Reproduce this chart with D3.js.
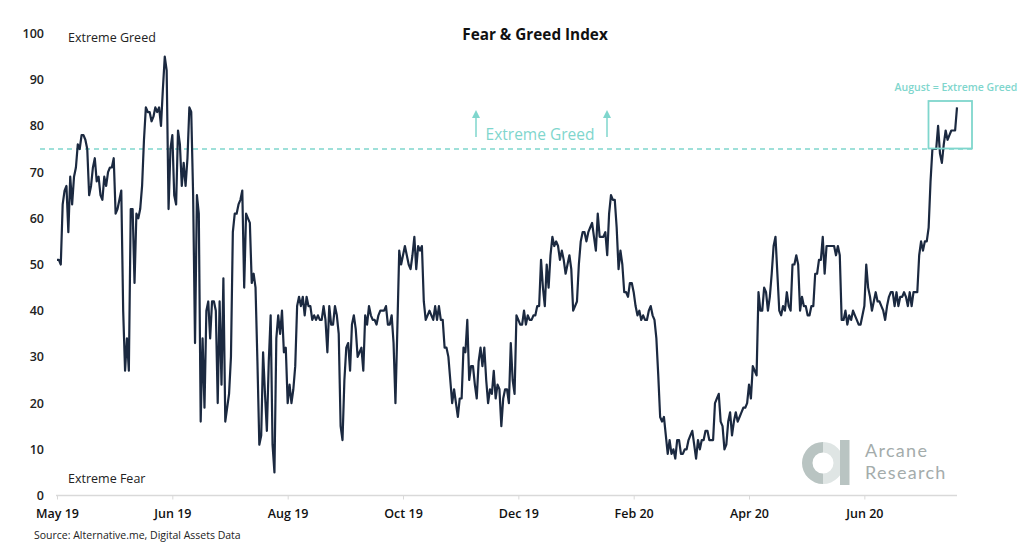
<!DOCTYPE html>
<html><head><meta charset="utf-8">
<script src="https://cdn.jsdelivr.net/npm/d3@7"></script>
<style>
html,body{margin:0;padding:0;background:#fff;}
svg{display:block;font-family:"Open Sans","Noto Sans",sans-serif;}
</style></head>
<body><svg id="c" width="1024" height="542"></svg>
<script>
// Daily Fear & Greed index values
const values = [
51,51,50,63,66,67,57,69,63,69,71,76,75,78,78,77,75,65,67,71,
73,68,69,65,64,69,67,70,71,71,73,61,62,64,66,40,27,34,27,62,
62,46,61,60,62,67,77,84,83,83,81,82,84,83,84,80,88,95,92,62,
75,78,65,63,79,76,67,72,67,73,84,83,65,33,65,61,16,34,19,40,
42,34,42,42,40,20,42,24,47,16,19,22,30,57,61,61,63,64,66,45,
61,60,59,46,48,45,29,11,13,31,22,14,29,39,11,5,34,39,35,40,
31,32,20,24,20,23,28,41,43,41,43,39,43,41,41,38,39,38,39,38,
38,41,38,31,41,37,37,41,39,35,15,12,25,32,33,27,37,39,36,30,
31,32,27,39,37,41,39,38,38,37,39,40,40,40,41,37,37,39,33,20,
36,53,50,52,54,52,50,49,52,56,49,54,53,54,42,38,39,40,39,38,
41,38,41,38,38,32,32,30,25,20,23,20,17,21,21,32,31,38,25,28,
28,24,21,29,32,28,32,25,20,23,22,27,21,24,23,15,21,23,23,20,
33,25,22,39,38,37,37,40,37,39,38,38,39,39,41,41,51,45,41,50,
45,52,56,54,55,54,51,53,51,48,50,52,49,40,41,42,50,55,57,57,
55,57,58,59,56,53,61,56,56,56,57,52,61,65,64,64,58,49,53,50,
44,44,43,46,46,44,41,39,40,38,39,38,38,40,41,39,38,34,26,17,
16,17,13,9,12,9,10,8,12,12,9,9,10,10,12,13,14,11,8,12,
10,12,12,14,14,12,12,12,20,21,22,16,15,10,11,16,18,13,16,18,
16,17,18,19,19,20,24,21,28,27,26,44,40,40,45,44,40,43,48,54,
56,48,40,39,41,40,44,41,40,50,50,52,50,40,43,41,41,39,39,41,
41,48,48,51,51,56,48,54,54,54,54,54,52,54,52,38,38,40,37,39,
38,40,39,38,37,37,39,41,50,45,43,40,42,44,42,42,41,40,38,41,
43,44,44,41,44,41,43,43,44,43,41,44,41,44,44,44,52,55,53,55,
55,58,68,75,75,75,80,74,72,76,79,77,78,79,79,79,84
];
const tickIndex = [0, 61, 122, 183, 244, 305, 366, 427];
const tickLabels = ["May 19","Jun 19","Aug 19","Oct 19","Dec 19","Feb 20","Apr 20","Jun 20"];
const yTicks = [0,10,20,30,40,50,60,70,80,90,100];
const greedThreshold = 75;

const svg = d3.select("#c");
const x = d3.scaleLinear().domain([0, values.length - 1]).range([57, 957]);
const y = d3.scaleLinear().domain([0, 100]).range([495.5, 33.5]);
const teal = "#7fd6cd";

// Title
svg.append("text").attr("x", 535).attr("y", 40).attr("text-anchor", "middle")
  .attr("font-size", 15.3).attr("font-weight", 700).attr("fill", "#111")
  .text("Fear & Greed Index");

// Y axis labels
const yAxis = d3.axisLeft(y).tickValues(yTicks).tickSize(0).tickPadding(0);
const gy = svg.append("g").attr("transform", "translate(44,0)").call(yAxis);
gy.select(".domain").remove();
gy.selectAll("text").attr("font-size", 12.5).attr("font-weight", 600)
  .attr("fill", "#222").attr("font-family", "'Open Sans','Noto Sans',sans-serif");

// X axis
const xAxis = d3.axisBottom(x).tickValues(tickIndex)
  .tickFormat((d, i) => tickLabels[i]).tickSize(4).tickSizeOuter(0).tickPadding(10);
const gx = svg.append("g").attr("transform", "translate(0,495.5)").call(xAxis);
gx.select(".domain").attr("stroke", "#d9d9d9").attr("stroke-width", 1.5)
  .attr("d", `M${x(0)-1},0H${x(values.length-1)}`);
gx.selectAll(".tick line").attr("stroke", "#d9d9d9");
gx.selectAll("text").attr("font-size", 12.5).attr("font-weight", 600)
  .attr("fill", "#111").attr("font-family", "'Open Sans','Noto Sans',sans-serif");

// Zone labels
svg.append("text").attr("x", 68).attr("y", 42).attr("font-size", 12.5)
  .attr("fill", "#222").text("Extreme Greed");
svg.append("text").attr("x", 68).attr("y", 483).attr("font-size", 12.5)
  .attr("fill", "#222").text("Extreme Fear");

// Threshold dashed line
svg.append("line").attr("x1", 40).attr("x2", 972)
  .attr("y1", y(greedThreshold)).attr("y2", y(greedThreshold))
  .attr("stroke", teal).attr("stroke-width", 1.5).attr("stroke-dasharray", "5,4");

// Extreme greed label and arrows
svg.append("text").attr("x", 540).attr("y", 140).attr("text-anchor", "middle")
  .attr("font-size", 15.5).attr("fill", teal).text("Extreme Greed");
[476, 607].forEach(ax => {
  svg.append("line").attr("x1", ax).attr("x2", ax).attr("y1", 137).attr("y2", 116)
    .attr("stroke", teal).attr("stroke-width", 1.5);
  svg.append("path").attr("d", `M${ax-4},118L${ax},110L${ax+4},118Z`).attr("fill", teal);
});

// Line
const line = d3.line().x((d, i) => x(i)).y(d => y(d));
svg.append("path").datum(values).attr("d", line).attr("fill", "none")
  .attr("stroke", "#1b2940").attr("stroke-width", 2.2).attr("stroke-linejoin", "round");

// August box
svg.append("rect").attr("x", 928.5).attr("y", 101).attr("width", 43.5).attr("height", 47.5)
  .attr("fill", "none").attr("stroke", teal).attr("stroke-width", 1.8);
svg.append("text").attr("x", 956).attr("y", 91).attr("text-anchor", "middle")
  .attr("font-size", 10.5).attr("font-weight", 600).attr("fill", teal)
  .text("August = Extreme Greed");

// Logo
const lg = svg.append("g");
const arcOuter = d3.arc().innerRadius(10.5).outerRadius(21);
lg.append("path").attr("transform", "translate(823,463)")
  .attr("d", arcOuter({startAngle: 0, endAngle: Math.PI}))
  .attr("fill", "#dfe5e4");
lg.append("path").attr("transform", "translate(823,463)")
  .attr("d", arcOuter({startAngle: Math.PI, endAngle: Math.PI * 2}))
  .attr("fill", "#b9c4c2");
lg.append("rect").attr("x", 840).attr("y", 440).attr("width", 9.5).attr("height", 45)
  .attr("fill", "#b9c4c2");
lg.append("text").attr("x", 865).attr("y", 456.5).attr("font-size", 18)
  .attr("letter-spacing", 1.3).attr("fill", "#a4acab")
  .attr("font-family", "Lato,'Open Sans',sans-serif").text("Arcane");
lg.append("text").attr("x", 865).attr("y", 478.5).attr("font-size", 18)
  .attr("letter-spacing", 1.3).attr("fill", "#a4acab")
  .attr("font-family", "Lato,'Open Sans',sans-serif").text("Research");

// Source
svg.append("text").attr("x", 34).attr("y", 539).attr("font-size", 10.5)
  .attr("fill", "#222").text("Source: Alternative.me, Digital Assets Data");
</script>
</body></html>
